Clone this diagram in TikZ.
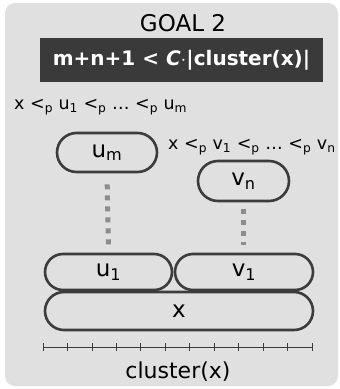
\documentclass[tikz,border=0pt]{standalone}
\usepackage{fontspec}
\setmainfont{DejaVu Sans}
\usepackage{xcolor}
\usepackage{tikz}
\usetikzlibrary{positioning, calc, shapes.misc}
\definecolor{panel}{RGB}{224,224,224}
\definecolor{ink}{RGB}{60,60,60}
\definecolor{slate}{RGB}{58,58,58}
\definecolor{dotgray}{RGB}{140,140,140}
\newcommand{\psub}[1]{\textsubscript{#1}}

\begin{document}
\begin{tikzpicture}[x=1pt, y=-1pt,
  pill/.style={rounded rectangle, draw=ink, line width=2.6pt, fill=panel, inner sep=0pt, font=\fontsize{23}{26}\selectfont},
  chain/.style={dotgray, line width=5pt, dash pattern=on 5pt off 6pt, shorten >=8pt, shorten <=11pt},
  lbl/.style={anchor=west, inner sep=0pt, font=\fontsize{17.5}{20}\selectfont}
]
\useasboundingbox (0,0) rectangle (340,389);
\fill[panel, rounded corners=10pt] (5,3) rectangle (338,386);

\node[font=\fontsize{23}{26}\selectfont] (goal) at (183,23) {GOAL 2};
\node[fill=slate, text=white, minimum width=283pt, minimum height=44pt, inner sep=0pt,
  font=\fontsize{20}{24}\bfseries] (bound) at (181.5,60) {m+n+1 < \textit{C}$\cdot$|cluster(x)|};

\node[lbl] (uchain) at (14,107) {x <\psub{p} u\psub{1} <\psub{p} … <\psub{p} u\psub{m}};
\node[lbl] (vchain) at (168,147) {x <\psub{p} v\psub{1} <\psub{p} … <\psub{p} v\psub{n}};

\node[pill, minimum width=100pt, minimum height=39pt] (um) at (107,152.5) {u\psub{m}};
\node[pill, minimum width=91pt, minimum height=40pt] (vn) at (243.5,181) {v\psub{n}};
\node[pill, minimum width=127pt, minimum height=36pt] (u1) at (108.5,272) {u\psub{1}};
\node[pill, minimum width=138pt, minimum height=36pt] (v1) at (244,272) {v\psub{1}};
\node[pill, minimum width=268pt, minimum height=38pt] (x) at (179,311) {x};

\draw[chain] (um.south) -- (u1.north);
\draw[chain, shorten <=7pt] (vn.south) -- (vn.south |- v1.north);

\coordinate (axl) at (43,347);
\coordinate (axr) at (312,347);
\draw[ink, line width=0.8pt] (axl) -- (axr);
\foreach \i in {0,...,11}
  \draw[ink, line width=0.8pt] ($(axl)!\i/11!(axr)$) ++(0,-4) -- ++(0,8);
\node[font=\fontsize{22}{26}\selectfont] (axis) at (178,372) {cluster(x)};
\end{tikzpicture}
\end{document}
